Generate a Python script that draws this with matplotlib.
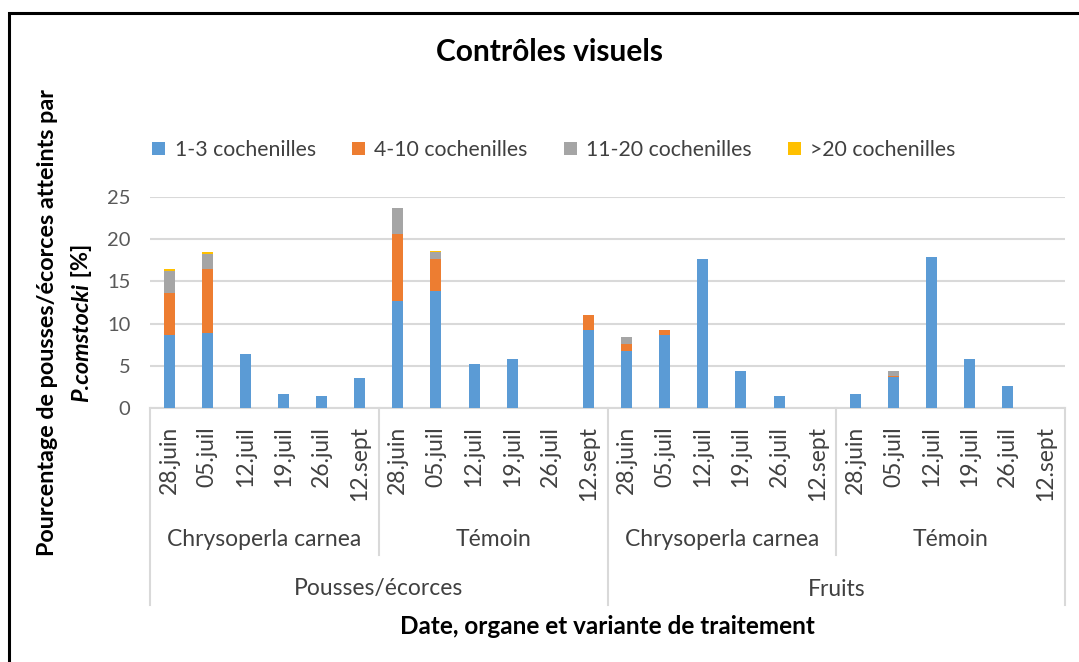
import matplotlib
matplotlib.use("Agg")
from matplotlib import pyplot as plt
from matplotlib.transforms import blended_transform_factory
from matplotlib.patches import Rectangle
import numpy as np

plt.rcParams['font.family'] = ['Lato', 'DejaVu Sans']

dates = ["28.juin", "05.juil", "12.juil", "19.juil", "26.juil", "12.sept"]
variants = ["Chrysoperla carnea", "Témoin", "Chrysoperla carnea", "Témoin"]
organs = ["Pousses/écorces", "Fruits"]

series_labels = ["1-3 cochenilles", "4-10 cochenilles", "11-20 cochenilles", ">20 cochenilles"]
colors = ["#5B9BD5", "#ED7D31", "#A5A5A5", "#FFC000"]

s_1_3 = [8.7, 8.9, 6.4, 1.7, 1.4, 3.6,
         12.7, 13.9, 5.2, 5.85, 0, 9.2,
         6.7, 8.7, 17.65, 4.4, 1.4, 0,
         1.7, 3.7, 17.9, 5.85, 2.6, 0]
s_4_10 = [4.9, 7.6, 0, 0, 0, 0,
          7.95, 3.8, 0, 0, 0, 1.8,
          0.9, 0.6, 0, 0, 0, 0,
          0, 0.15, 0, 0, 0, 0]
s_11_20 = [2.6, 1.7, 0, 0, 0, 0,
           3.05, 0.8, 0, 0, 0, 0,
           0.85, 0, 0, 0, 0, 0,
           0, 0.55, 0, 0, 0, 0]
s_20 = [0.3, 0.3, 0, 0, 0, 0,
        0, 0.15, 0, 0, 0, 0,
        0, 0, 0, 0, 0, 0,
        0, 0, 0, 0, 0, 0]

W, H = 1079, 662
fig = plt.figure(figsize=(W / 100, H / 100), dpi=100)
fy = lambda py: 1 - py / H

# chart frame (right and bottom edges fall outside the image)
fig.patches.append(Rectangle((9 / W, -0.1), 1.2, 1 - 13 / H + 0.1, transform=fig.transFigure,
                             fill=False, edgecolor="black", linewidth=2.2))

ax = fig.add_axes([150 / W, fy(408), (1065 - 150) / W, (408 - 197) / H])

x = np.arange(len(s_1_3))
bottom = np.zeros(len(x))
for vals, lab, col in zip([s_1_3, s_4_10, s_11_20, s_20], series_labels, colors):
    ax.bar(x, vals, 0.29, bottom=bottom, color=col, label=lab, zorder=3)
    bottom += np.array(vals)

ax.set_xlim(-0.5, len(x) - 0.5)
ax.set_ylim(0, 25)
ax.set_yticks([0, 5, 10, 15, 20, 25])
ax.tick_params(axis="y", length=0, labelsize=14.5, labelcolor="#595959", pad=14)
ax.set_xticks([])
ax.grid(axis="y", color="#d9d9d9", linewidth=1.5, zorder=0)
for s in ["top", "right", "left"]:
    ax.spines[s].set_visible(False)
ax.spines["bottom"].set_color("#d9d9d9")
ax.spines["bottom"].set_linewidth(1.5)

tr = blended_transform_factory(ax.transData, fig.transFigure)

# date labels
for i in x:
    ax.text(i, fy(426), dates[i % 6], transform=tr, rotation=90, ha="center", va="top",
            fontsize=16.5, color="#404040")

# variant labels
for g, v in enumerate(variants):
    ax.text(g * 6 + 2.5, fy(540), v, transform=tr, ha="center", va="center",
            fontsize=16.5, color="#404040")

# organ labels
for g, o in enumerate(organs):
    ax.text(g * 12 + 5.5, fy(589), o, transform=tr, ha="center", va="center",
            fontsize=16.5, color="#404040")

# separators
for xs in [5.5, 17.5]:
    ax.plot([xs, xs], [fy(408), fy(555)], transform=tr, color="#d9d9d9", lw=1.5, clip_on=False)
for xs in [-0.5, 11.5, 23.5]:
    ax.plot([xs, xs], [fy(408), fy(605)], transform=tr, color="#d9d9d9", lw=1.5, clip_on=False)

fig.text(549 / W, fy(52), "Contrôles visuels", ha="center", va="center",
         fontsize=21.5, fontweight="bold")
fig.text(607 / W, fy(627), "Date, organe et variante de traitement", ha="center", va="center",
         fontsize=17.5, fontweight="bold")
fig.text(48 / W, fy(323), "Pourcentage de pousses/écorces atteints par", rotation=90,
         ha="center", va="center", fontsize=16.8, fontweight="bold")

# second y-label line: italic species name followed by upright unit
renderer = fig.canvas.get_renderer()
t1 = fig.text(82 / W, 0, "P.comstocki", rotation=90, ha="center", va="bottom",
              fontsize=16.8, fontweight="bold", style="italic")
t2 = fig.text(82 / W, 0, " [%]", rotation=90, ha="center", va="bottom",
              fontsize=16.8, fontweight="bold")
h1 = t1.get_window_extent(renderer).height / H
h2 = t2.get_window_extent(renderer).height / H
y0 = fy(323) - (h1 + h2) / 2
t1.set_y(y0)
t2.set_y(y0 + h1)

fig.legend(loc="center", bbox_to_anchor=(554 / W, fy(150)), ncol=4, frameon=False,
           fontsize=15.3, handlelength=0.6, handleheight=0.6, handletextpad=0.45,
           columnspacing=1.7, labelcolor="#404040")

plt.savefig("out.png", dpi=100)
